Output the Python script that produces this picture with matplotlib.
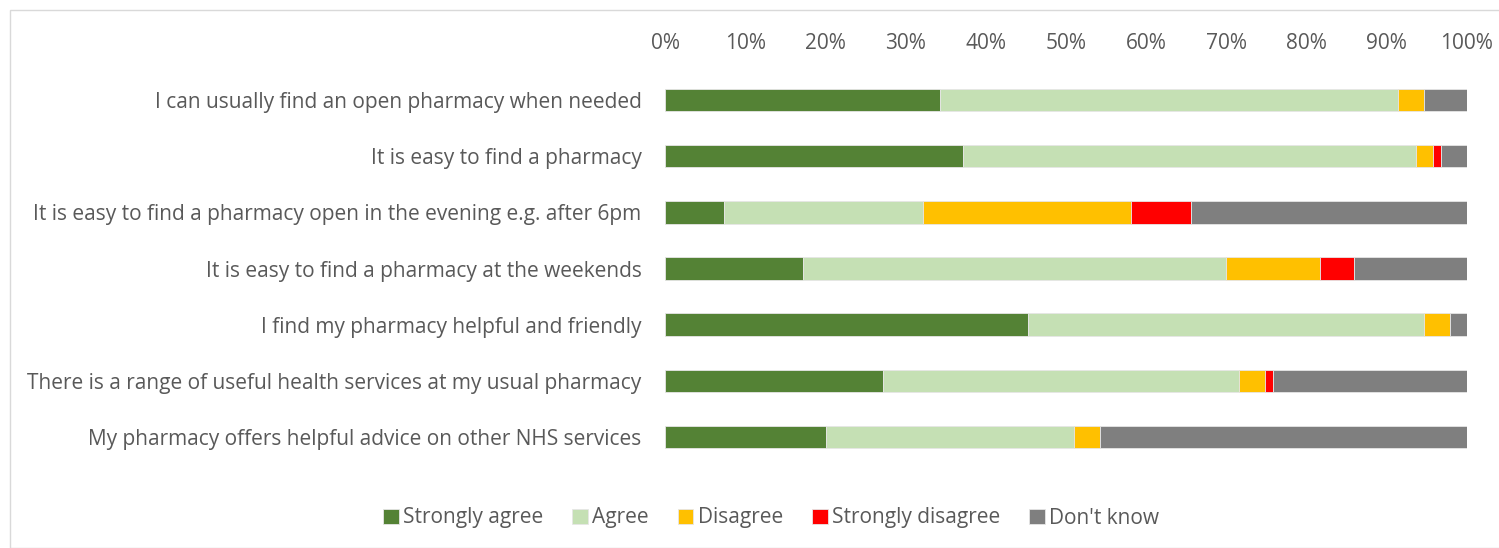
import matplotlib
matplotlib.use("Agg")
import matplotlib.pyplot as plt
from matplotlib.patches import Rectangle
import numpy as np

categories = [
    "I can usually find an open pharmacy when needed",
    "It is easy to find a pharmacy",
    "It is easy to find a pharmacy open in the evening e.g. after 6pm",
    "It is easy to find a pharmacy at the weekends",
    "I find my pharmacy helpful and friendly",
    "There is a range of useful health services at my usual pharmacy",
    "My pharmacy offers helpful advice on other NHS services",
]
series_names = ["Strongly agree", "Agree", "Disagree", "Strongly disagree", "Don't know"]
strongly_agree = [34.3, 37.2, 7.4, 17.2, 45.2, 27.2, 20.1]
agree = [57.1, 56.4, 24.8, 52.7, 49.5, 44.4, 30.9]
disagree = [3.2, 2.2, 25.9, 11.8, 3.2, 3.2, 3.2]
strongly_disagree = [0.0, 1.0, 7.5, 4.2, 0.0, 1.0, 0.0]
dont_know = [5.4, 3.2, 34.4, 14.1, 2.1, 24.2, 45.8]
tick_labels = ["0%", "10%", "20%", "30%", "40%", "50%", "60%", "70%", "80%", "90%", "100%"]

colors = ["#548235", "#C5E0B4", "#FFC000", "#FF0000", "#7F7F7F"]
text_color = "#595959"
font = "Open Sans"
fs = 15

W, H = 1499, 548
fig = plt.figure(figsize=(W / 100, H / 100), dpi=100)
ax = fig.add_axes([665 / W, 1 - 465 / H, (1467 - 665) / W, (465 - 72) / H])

data = [strongly_agree, agree, disagree, strongly_disagree, dont_know]
y = np.arange(len(categories))
left = np.zeros(len(categories))
handles = []
for name, vals, col in zip(series_names, data, colors):
    vals = np.array(vals, dtype=float)
    b = ax.barh(y, vals, left=left, height=0.4, color=col, edgecolor="#E6E6E6",
                linewidth=0.6, label=name)
    handles.append(b)
    left += vals

ax.set_xlim(0, 100)
ax.set_ylim(len(categories) - 0.5, -0.5)
ax.set_yticks(y)
ax.set_yticklabels(categories, fontsize=fs, color=text_color, family=font)
ax.set_xticks(np.arange(0, 101, 10))
ax.set_xticklabels(tick_labels, fontsize=fs, color=text_color, family=font)
ax.xaxis.tick_top()
ax.tick_params(axis="x", length=0, pad=13)
ax.tick_params(axis="y", length=0, pad=17)
for s in ax.spines.values():
    s.set_visible(False)

leg = fig.legend(handles=handles, labels=series_names, loc="center",
                 bbox_to_anchor=(771 / W, 1 - 518 / H), ncol=5, frameon=False,
                 handlelength=0.75, handleheight=0.75, handletextpad=0.2,
                 columnspacing=1.4, prop={"family": font, "size": fs})
for t in leg.get_texts():
    t.set_color(text_color)

fig.patches.append(Rectangle((10 / W, 0), 1.0, 1 - 10 / H, transform=fig.transFigure,
                             fill=False, edgecolor="#D9D9D9", linewidth=1.0))

fig.savefig("out.png", dpi=100)
